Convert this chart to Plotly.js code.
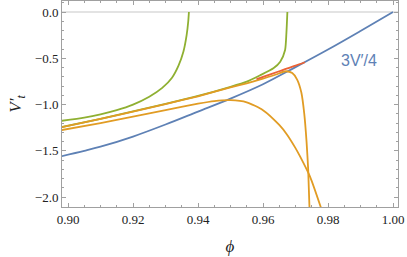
<!DOCTYPE html>
<html>
<head>
<meta charset="utf-8">
<script src="https://cdn.plot.ly/plotly-3.0.1.min.js"></script>
<style>html,body{margin:0;padding:0;background:#fff;}#chart{width:407px;height:257px;}</style>
</head>
<body>
<div id="chart"></div>
<script>
// 3V'/4 reference curve (blue)
const blueX = [0.898, 0.905, 0.91, 0.92, 0.93, 0.94, 0.95, 0.96, 0.97, 0.98, 0.99, 1.0];
const blueY = [-1.557, -1.50, -1.455, -1.345, -1.215, -1.075, -0.935, -0.78, -0.595, -0.405, -0.205, 0.0];

// lower orange solution
const orange1X = [0.898, 0.91, 0.92, 0.93, 0.94, 0.945, 0.95, 0.955, 0.96, 0.965, 0.9673, 0.97, 0.9714, 0.9745, 0.9778];
const orange1Y = [-1.275, -1.2, -1.13, -1.06, -0.99, -0.962, -0.952, -0.975, -1.06, -1.22, -1.32, -1.47, -1.56, -1.78, -2.11];

// upper orange solution (steep drop)
const orange2X = [0.898, 0.91, 0.92, 0.93, 0.94, 0.95, 0.955, 0.96, 0.964, 0.967, 0.969, 0.9705, 0.9718, 0.9727, 0.9734, 0.9739, 0.9743];
const orange2Y = [-1.245, -1.155, -1.075, -0.995, -0.91, -0.815, -0.77, -0.72, -0.675, -0.64, -0.66, -0.73, -0.87, -1.1, -1.4, -1.7, -2.11];

// green solution 1 (diverges near 0.937)
const green1X = [0.898, 0.905, 0.91, 0.915, 0.92, 0.925, 0.929, 0.932, 0.934, 0.9355, 0.9365, 0.937, 0.9372];
const green1Y = [-1.175, -1.14, -1.105, -1.06, -1.0, -0.915, -0.82, -0.71, -0.58, -0.43, -0.25, -0.1, 0.0];

// green solution 2 (diverges near 0.9675)
const green2X = [0.898, 0.91, 0.92, 0.93, 0.94, 0.95, 0.955, 0.959, 0.9632, 0.9653, 0.9668, 0.9672, 0.9675];
const green2Y = [-1.243, -1.153, -1.073, -0.993, -0.907, -0.808, -0.752, -0.685, -0.608, -0.537, -0.41, -0.23, 0.0];

// red attractor segment
const redX = [0.958, 0.96, 0.965, 0.9668, 0.97, 0.9729];
const redY = [-0.725, -0.70, -0.64, -0.618, -0.58, -0.543];

const xTicks = [0.90, 0.92, 0.94, 0.96, 0.98, 1.00];
const xTickText = ["0.90", "0.92", "0.94", "0.96", "0.98", "1.00"];
const yTicks = [0.0, -0.5, -1.0, -1.5, -2.0];
const yTickText = ["0.0", "\u22120.5", "\u22121.0", "\u22121.5", "\u22122.0"];

const BLUE = "#5E81B5", ORANGE = "#E19C24", GREEN = "#8FB032", RED = "#EB6235";
const W = 1.8;
const SERIF = "Liberation Serif, DejaVu Serif, serif";

function tr(x, y, c, sm) {
  return {x: x, y: y, type: "scatter", mode: "lines",
    line: {color: c, width: W, shape: "spline", smoothing: sm},
    hoverinfo: "skip", showlegend: false, cliponaxis: true};
}

const data = [
  tr(blueX, blueY, BLUE, 1.0),
  tr(green2X, green2Y, GREEN, 0.6),
  tr(orange1X, orange1Y, ORANGE, 0.6),
  tr(orange2X, orange2Y, ORANGE, 0.6),
  tr(green1X, green1Y, GREEN, 0.6),
  tr(redX, redY, RED, 0.8)
];

const axisCommon = {
  showline: true, linecolor: "#a0a0a0", linewidth: 1, mirror: "ticks",
  ticks: "inside", ticklen: 4, tickwidth: 1, tickcolor: "#a0a0a0",
  showgrid: false, zeroline: false,
  tickfont: {family: SERIF, size: 13, color: "#222"}
};

const layout = {
  width: 407, height: 257,
  margin: {l: 62, r: 9, t: 1, b: 50},
  paper_bgcolor: "#fff", plot_bgcolor: "#fff",
  xaxis: Object.assign({}, axisCommon, {
    range: [0.89815, 1.00154], tickvals: xTicks, ticktext: xTickText,
    minor: {dtick: 0.005, tick0: 0.9, ticks: "inside", ticklen: 2, tickcolor: "#a0a0a0"},
    title: {text: "<i>\u03D5</i>", font: {family: SERIF, size: 17, color: "#222"}, standoff: 14}
  }),
  yaxis: Object.assign({}, axisCommon, {
    range: [-2.106, 0.1188], tickvals: yTicks, ticktext: yTickText,
    minor: {dtick: 0.1, tick0: 0, ticks: "inside", ticklen: 2, tickcolor: "#a0a0a0"},
    title: {text: "<i>V\u2032<sub>t</sub></i>", font: {family: SERIF, size: 17, color: "#222"}, standoff: 8}
  }),
  shapes: [{type: "line", xref: "paper", x0: 0, x1: 1, yref: "y", y0: 0, y1: 0,
    line: {color: "#c8c8c8", width: 1.2}, layer: "below"}],
  annotations: [{x: 0.9895, y: -0.52, xref: "x", yref: "y", text: "3V\u2032/4",
    showarrow: false, font: {family: "Liberation Sans, Arial, sans-serif", size: 16, color: BLUE}}]
};

Plotly.newPlot("chart", data, layout, {staticPlot: true, displayModeBar: false});
</script>
</body>
</html>
